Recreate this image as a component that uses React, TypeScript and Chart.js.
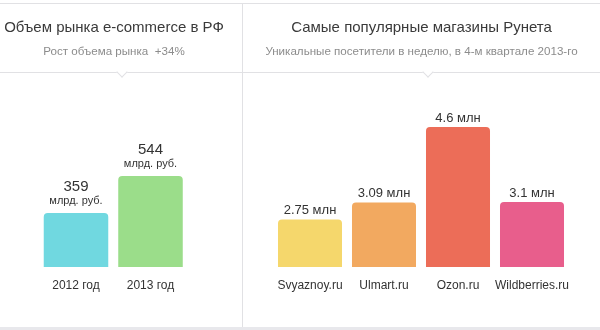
import React, { useEffect, useRef } from "react";
import { Chart, registerables } from "chart.js";

Chart.register(...registerables);

const FONT = "'Liberation Sans', Arial, Helvetica, sans-serif";

// Left panel: market volume
const marketTitle = "Объем рынка e-commerce в РФ";
const marketSubtitle = "Рост объема рынка  +34%";
const marketYears = ["2012 год", "2013 год"];
const marketValues = [359, 544];
const marketUnit = "млрд. руб.";
const marketColors = ["#70D8E0", "#9BDD8A"];

// Right panel: top shops
const shopTitle = "Самые популярные магазины Рунета";
const shopSubtitle = "Уникальные посетители в неделю, в 4-м квартале 2013-го";
const shopNames = ["Svyaznoy.ru", "Ulmart.ru", "Ozon.ru", "Wildberries.ru"];
const shopVisitors = [2.75, 3.09, 4.6, 3.1];
const shopLabels = ["2.75 млн", "3.09 млн", "4.6 млн", "3.1 млн"];
const shopColors = ["#F5D76C", "#F2A960", "#EC6D58", "#E85E8C"];

type Line = { text: string; size: number; dy: number };

function labelPlugin(getLines: (i: number) => Line[]) {
  return {
    id: "barValueLabels",
    afterDatasetsDraw(chart: any) {
      const ctx = chart.ctx;
      const meta = chart.getDatasetMeta(0);
      ctx.save();
      ctx.textAlign = "center";
      ctx.textBaseline = "middle";
      ctx.fillStyle = "#333333";
      meta.data.forEach((bar: any, i: number) => {
        getLines(i).forEach((l) => {
          ctx.font = `${l.size}px ${FONT}`;
          ctx.fillText(l.text, bar.x, bar.y - l.dy);
        });
      });
      ctx.restore();
    },
  };
}

function hiddenAxis(position: string, width: number, min?: number, max?: number): any {
  return {
    display: true,
    position,
    min,
    max,
    ticks: { display: false },
    grid: { display: false, drawTicks: false },
    border: { display: false },
    afterFit: (s: any) => {
      s.width = width;
    },
  };
}

function baseOptions(
  title: string,
  subtitle: string,
  titleSize: number,
  subSize: number,
  padL: number,
  padR: number,
  yMin: number,
  yMax: number
): any {
  return {
    responsive: false,
    animation: false,
    devicePixelRatio: 1,
    layout: { padding: { left: 0, right: 0, top: 0, bottom: 23.6 } },
    plugins: {
      legend: { display: false },
      tooltip: { enabled: false },
      title: {
        display: true,
        text: title,
        color: "#3a3a3a",
        font: { family: FONT, size: titleSize, weight: "normal" },
        padding: { top: 28 - titleSize * 0.6, bottom: 4 },
      },
      subtitle: {
        display: true,
        text: subtitle,
        color: "#8c8c8c",
        font: { family: FONT, size: subSize, weight: "normal" },
        padding: { top: 52 - (28 + titleSize * 0.6 + 4) - subSize * 0.6, bottom: 100 - 52 - subSize * 0.6 },
      },
    },
    scales: {
      x: {
        grid: { display: false, drawTicks: false },
        border: { display: false },
        ticks: {
          color: "#333333",
          font: { family: FONT, size: 12 },
          padding: 11,
          maxRotation: 0,
          minRotation: 0,
          autoSkip: false,
        },
      },
      y: hiddenAxis("left", padL, yMin, yMax),
      y2: hiddenAxis("right", padR, 0, 1),
    },
  };
}

function ChartCanvas({ config, width, height, left }: any) {
  const ref = useRef<HTMLCanvasElement | null>(null);
  useEffect(() => {
    if (!ref.current) return;
    const chart = new Chart(ref.current, config);
    return () => chart.destroy();
  }, []);
  return (
    <canvas
      ref={ref}
      width={width}
      height={height}
      style={{ position: "absolute", left, top: 0, width, height }}
    />
  );
}

export default function App() {
  useEffect(() => {
    document.body.style.margin = "0";
    document.body.style.background = "#ffffff";
  }, []);

  const leftConfig: any = {
    type: "bar",
    data: {
      labels: marketYears,
      datasets: [
        {
          data: marketValues,
          backgroundColor: marketColors,
          borderRadius: 4,
          borderSkipped: false,
          barPercentage: 0.866,
          categoryPercentage: 1,
          yAxisID: "y",
        },
      ],
    },
    options: baseOptions(marketTitle, marketSubtitle, 15, 11.6, 38.75, 40.25, 89, 924),
    plugins: [
      labelPlugin((i) => [
        { text: String(marketValues[i]), size: 15, dy: 26 },
        { text: marketUnit, size: 11, dy: 12 },
      ]),
    ],
  };

  const rightConfig: any = {
    type: "bar",
    data: {
      labels: shopNames,
      datasets: [
        {
          data: shopVisitors,
          backgroundColor: shopColors,
          borderRadius: 4,
          borderSkipped: false,
          barPercentage: 0.865,
          categoryPercentage: 1,
          yAxisID: "y",
        },
      ],
    },
    options: baseOptions(shopTitle, shopSubtitle, 15, 11.6, 30, 31, 1.8, 5.14),
    plugins: [labelPlugin((i) => [{ text: shopLabels[i], size: 13, dy: 9 }])],
  };

  const line = "#E1E1E4";
  return (
    <div style={{ position: "relative", width: 600, height: 330, background: "#fff", overflow: "hidden" }}>
      <div style={{ position: "absolute", left: 0, top: 3, width: 600, height: 1, background: line }} />
      <div style={{ position: "absolute", left: 0, top: 72, width: 600, height: 1, background: line }} />
      <div style={{ position: "absolute", left: 242, top: 3, width: 1, height: 324, background: line }} />
      <div style={{ position: "absolute", left: 0, top: 327, width: 600, height: 3, background: "#E8E8EC" }} />
      {[122, 428].map((x) => (
        <div
          key={x}
          style={{
            position: "absolute",
            left: x - 4,
            top: 68,
            width: 7,
            height: 7,
            background: "#fff",
            borderRight: `1px solid ${line}`,
            borderBottom: `1px solid ${line}`,
            transform: "rotate(45deg)",
          }}
        />
      ))}
      <ChartCanvas config={leftConfig} width={228} height={327} left={0} />
      <ChartCanvas config={rightConfig} width={357} height={327} left={243} />
    </div>
  );
}
